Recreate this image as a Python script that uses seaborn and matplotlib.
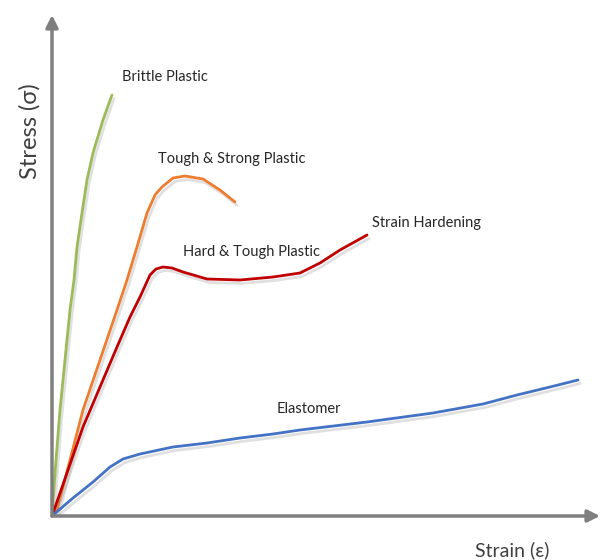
import numpy as np
import pandas as pd
import matplotlib
matplotlib.use('Agg')
import matplotlib.pyplot as plt
import matplotlib.patheffects as pe
import seaborn as sns

# 数据：从图中读取（单位为任意的应变/应力）
brittle_x = [0, 4, 8, 13, 18, 22, 25, 30, 35, 41, 51, 60]
brittle_y = [0, 56, 106, 156, 206, 236, 269, 303, 336, 363, 396, 421]

tough_x = [0, 5, 18, 31, 48, 65, 75, 85, 95, 103, 110, 121, 133, 151, 168, 183]
tough_y = [0, 6, 56, 106, 156, 206, 236, 269, 303, 321, 329, 338, 340, 337, 326, 314]

hard_x = [0, 15, 31, 48, 65, 78, 88, 98, 104, 111, 120, 131, 155, 188, 221, 248, 268, 288, 315]
hard_y = [0, 43, 89, 129, 169, 199, 219, 241, 247, 249, 248, 244, 237, 236, 239, 243, 253, 266, 281]

elast_x = [0, 21, 41, 58, 71, 88, 121, 155, 188, 221, 248, 315, 381, 431, 465, 498, 526]
elast_y = [0, 18, 34, 49, 57, 62, 69, 73, 78, 82, 86, 94, 103, 112, 121, 129, 136]

curve_names = ['Brittle Plastic', 'Tough & Strong Plastic', 'Hard & Tough Plastic', 'Elastomer']
curve_colors = ['#9bbb59', '#ed7d31', '#c00000', '#4472c4']

# 标注文字
labels = ['Brittle Plastic', 'Tough & Strong Plastic', 'Strain Hardening',
          'Hard & Tough Plastic', 'Elastomer']
label_x = [70, 106, 320, 131, 225]
label_y = [439, 357, 293, 264, 107]

df = pd.concat([
    pd.DataFrame({'strain': brittle_x, 'stress': brittle_y, 'curve': curve_names[0]}),
    pd.DataFrame({'strain': tough_x, 'stress': tough_y, 'curve': curve_names[1]}),
    pd.DataFrame({'strain': hard_x, 'stress': hard_y, 'curve': curve_names[2]}),
    pd.DataFrame({'strain': elast_x, 'stress': elast_y, 'curve': curve_names[3]}),
], ignore_index=True)

sns.set_style('white')
plt.rcParams['font.family'] = ['Lato', 'DejaVu Sans']

fig = plt.figure(figsize=(6, 5.6), dpi=100)
ax = fig.add_axes([52 / 600, 44 / 560, 548 / 600, 501 / 560])

shadow = [pe.SimpleLineShadow(offset=(1.5, -2.5), shadow_color='#999999', alpha=0.3), pe.Normal()]
for name, color in zip(curve_names, curve_colors):
    sns.lineplot(data=df[df['curve'] == name], x='strain', y='stress', color=color,
                 sort=False, lw=2, ax=ax, path_effects=shadow,
                 solid_joinstyle='round', solid_capstyle='round')

for t, x, y in zip(labels, label_x, label_y):
    ax.text(x, y, t, fontsize=10.5, color='#262626', ha='left', va='center')

ax.set_xlim(0, 548)
ax.set_ylim(0, 501)
ax.set_xlabel('')
ax.set_ylabel('')
ax.set_xticks([])
ax.set_yticks([])
for s in ax.spines.values():
    s.set_visible(False)

# 坐标轴箭头
arrow = dict(arrowstyle='-|>', color='#7f7f7f', lw=2.5, mutation_scale=18, shrinkA=0, shrinkB=0)
ax.annotate('', xy=(1, 0), xytext=(0, 0), xycoords='axes fraction', arrowprops=arrow, annotation_clip=False)
ax.annotate('', xy=(0, 1), xytext=(0, 0), xycoords='axes fraction', arrowprops=arrow, annotation_clip=False)

fig.text(30 / 600, 1 - 131 / 560, 'Stress (σ)', rotation=90, fontsize=17, color='#404040',
         ha='center', va='center')
fig.text(512 / 600, 1 - 550 / 560, 'Strain (ε)', fontsize=14, color='#404040',
         ha='center', va='center')

fig.savefig('out.png', dpi=100)
